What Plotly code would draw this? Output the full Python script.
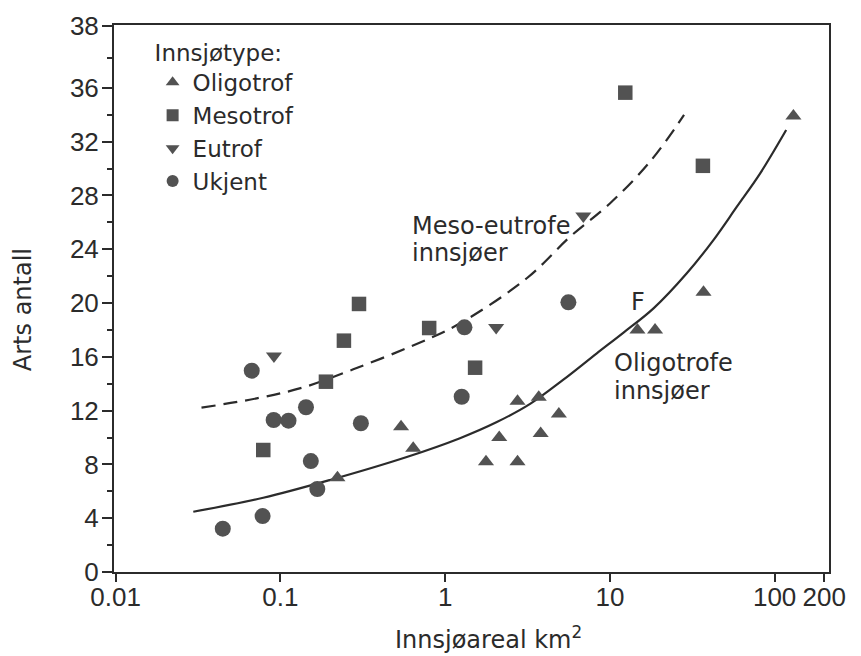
import math
import plotly.graph_objects as go

# ---- data ----
oligo_area = [0.222, 0.54, 0.64, 1.77, 2.13, 2.75, 2.75, 3.7, 3.8, 4.9, 14.7, 18.8, 37.0, 130.0]
oligo_species = [7.0, 10.8, 9.2, 8.2, 10.0, 8.2, 12.7, 13.0, 10.3, 11.75, 18.0, 18.0, 20.8, 33.9]

meso_area = [0.0787, 0.189, 0.243, 0.30, 0.80, 1.52, 12.4, 36.7]
meso_species = [9.07, 14.15, 17.2, 19.93, 18.14, 15.19, 35.64, 30.2]

eutro_area = [0.0914, 2.04, 6.9]
eutro_species = [16.06, 18.18, 26.47]

ukjent_area = [0.0447, 0.067, 0.091, 0.112, 0.143, 0.153, 0.1675, 0.078, 0.308, 1.26, 1.31, 5.6]
ukjent_species = [3.22, 14.97, 11.3, 11.25, 12.25, 8.25, 6.17, 4.16, 11.06, 13.03, 18.19, 20.05]

meso_eutro_curve_area = [0.0332, 0.0718, 0.138, 0.277, 0.612, 1.18, 3.13, 5.74, 10.0, 17.5, 28.2]
meso_eutro_curve_species = [12.22, 12.91, 13.73, 15.07, 16.75, 18.36, 21.84, 24.93, 27.4, 30.5, 33.98]

oligo_curve_area = [0.0296, 0.0787, 0.2, 0.585, 1.23, 2.06, 3.28, 5.22, 8.33, 12.1, 18.4, 29.3, 42.5, 59.0, 81.7, 117.5]
oligo_curve_species = [4.48, 5.52, 6.84, 8.55, 9.95, 11.15, 12.5, 14.3, 16.26, 17.8, 19.6, 22.21, 24.68, 27.16, 29.64, 32.86]

x_tick_values = [0.01, 0.1, 1, 10, 100, 200]
x_tick_labels = ["0.01", "0.1", "1", "10", "100", "200"]
y_tick_values = [0, 4, 8, 12, 16, 20, 24, 28, 32, 36, 40.6]
y_tick_labels = ["0", "4", "8", "12", "16", "20", "24", "28", "32", "36", "38"]
y_minor_values = [2, 6, 10, 14, 18, 22, 26, 30, 34, 38.2]

NUM_FONT = "Liberation Sans, Arial, sans-serif"
TXT_FONT = "DejaVu Sans, Verdana, sans-serif"
INK = "#2b2b2b"
MARK = "#525252"

fig = go.Figure()

fig.add_trace(go.Scatter(x=meso_eutro_curve_area, y=meso_eutro_curve_species, mode="lines",
                         line=dict(color=INK, width=2.2, dash="14px,8px", shape="spline", smoothing=1.0),
                         showlegend=False, hoverinfo="skip"))
fig.add_trace(go.Scatter(x=oligo_curve_area, y=oligo_curve_species, mode="lines",
                         line=dict(color=INK, width=2.2, shape="spline", smoothing=1.0),
                         showlegend=False, hoverinfo="skip"))

fig.add_trace(go.Scatter(x=oligo_area, y=oligo_species, mode="markers", name="Oligotrof",
                         marker=dict(symbol="triangle-up", size=14, color=MARK)))
fig.add_trace(go.Scatter(x=meso_area, y=meso_species, mode="markers", name="Mesotrof",
                         marker=dict(symbol="square", size=14.5, color=MARK)))
fig.add_trace(go.Scatter(x=eutro_area, y=eutro_species, mode="markers", name="Eutrof",
                         marker=dict(symbol="triangle-down", size=14, color=MARK)))
fig.add_trace(go.Scatter(x=ukjent_area, y=ukjent_species, mode="markers", name="Ukjent",
                         marker=dict(symbol="circle", size=16, color=MARK)))

label_font = dict(family=TXT_FONT, size=24, color=INK)
annotations = [
    dict(x=math.log10(0.612), y=25.7, text="Meso-eutrofe", xref="x", yref="y",
         xanchor="left", yanchor="middle", showarrow=False, font=label_font),
    dict(x=math.log10(0.612), y=23.7, text="innsjøer", xref="x", yref="y",
         xanchor="left", yanchor="middle", showarrow=False, font=label_font),
    dict(x=math.log10(13.1), y=20.1, text="F", xref="x", yref="y",
         xanchor="left", yanchor="middle", showarrow=False, font=label_font),
    dict(x=math.log10(10.3), y=15.54, text="Oligotrofe", xref="x", yref="y",
         xanchor="left", yanchor="middle", showarrow=False, font=label_font),
    dict(x=math.log10(10.3), y=13.46, text="innsjøer", xref="x", yref="y",
         xanchor="left", yanchor="middle", showarrow=False, font=label_font),
    dict(x=-0.127, y=0.479, text="Arts antall", xref="paper", yref="paper", textangle=-90,
         xanchor="center", yanchor="middle", showarrow=False, font=dict(family=TXT_FONT, size=24, color=INK)),
    dict(x=0.524, y=-0.121, text="Innsjøareal km<sup>2</sup>", xref="paper", yref="paper",
         xanchor="center", yanchor="middle", showarrow=False, font=dict(family=TXT_FONT, size=24, color=INK)),
]

fig.update_layout(
    width=861, height=656, autosize=False,
    margin=dict(l=114, r=32, t=25, b=84),
    paper_bgcolor="white", plot_bgcolor="white",
    font=dict(family=TXT_FONT, color=INK),
    annotations=annotations,
    legend=dict(
        title=dict(text="Innsjøtype:", font=dict(family=TXT_FONT, size=23, color=INK)),
        font=dict(family=TXT_FONT, size=23, color=INK),
        x=0.054, y=0.989, xanchor="left", yanchor="top",
        bgcolor="rgba(0,0,0,0)", borderwidth=0, tracegroupgap=0,
        itemsizing="constant",
    ),
)

fig.update_xaxes(
    type="log", range=[-2.01, 2.33], automargin=False,
    tickvals=x_tick_values, ticktext=x_tick_labels,
    ticks="outside", ticklen=8, tickwidth=2, tickcolor=INK,
    ticklabelstandoff=-7,
    showline=True, linewidth=2, linecolor=INK, mirror=True,
    showgrid=False, zeroline=False,
    tickfont=dict(family=NUM_FONT, size=26, color=INK),
)
fig.update_yaxes(
    range=[0, 40.67], automargin=False,
    tickvals=y_tick_values, ticktext=y_tick_labels,
    ticks="outside", ticklen=10, tickwidth=2, tickcolor=INK,
    ticklabelstandoff=-2,
    minor=dict(tickvals=y_minor_values, ticks="outside", ticklen=5, tickwidth=1.5, tickcolor=INK),
    showline=True, linewidth=2, linecolor=INK, mirror=True,
    showgrid=False, zeroline=False,
    tickfont=dict(family=NUM_FONT, size=26, color=INK),
)

fig.write_html("out.html", config={"displayModeBar": False},
               post_script="document.body.style.margin='0px';")
